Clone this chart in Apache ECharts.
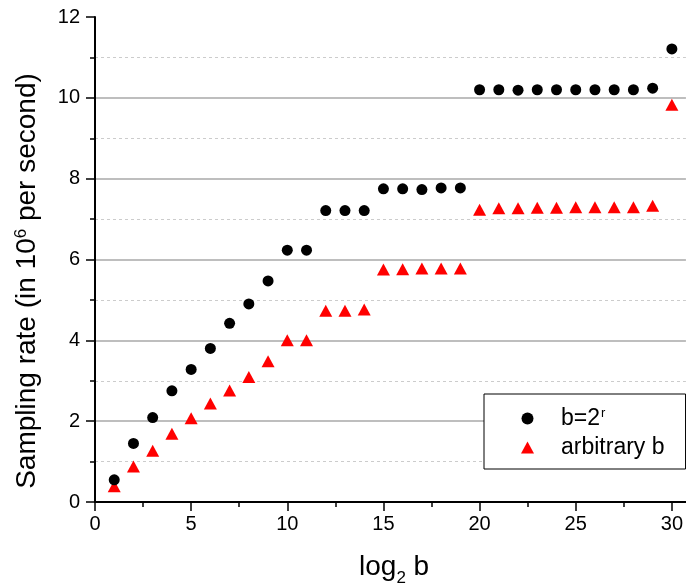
<!DOCTYPE html>
<html>
<head>
<meta charset="utf-8">
<script src="https://cdn.jsdelivr.net/npm/echarts@6/dist/echarts.min.js"></script>
<style>
html,body{margin:0;padding:0;background:#fff;}
#chart{width:686px;height:585px;}
</style>
</head>
<body>
<div id="chart"></div>
<script>
// ---- data ----
var log2b = [1,2,3,4,5,6,7,8,9,10,11,12,13,14,15,16,17,18,19,20,21,22,23,24,25,26,27,28,29,30];
var ratePow2 = [0.55,1.45,2.09,2.75,3.28,3.80,4.42,4.90,5.47,6.23,6.23,7.21,7.21,7.21,7.75,7.75,7.73,7.77,7.77,10.20,10.20,10.19,10.20,10.20,10.20,10.20,10.20,10.20,10.24,11.21];
var rateArbitrary = [0.39,0.88,1.27,1.69,2.07,2.44,2.76,3.09,3.48,4.00,4.00,4.73,4.73,4.76,5.75,5.76,5.78,5.78,5.78,7.23,7.27,7.27,7.28,7.28,7.29,7.29,7.29,7.29,7.33,9.83];
var xMajorTicks = [0,5,10,15,20,25,30];
var xMinorTicks = [2.5,7.5,12.5,17.5,22.5,27.5];
var seriesNames = ['b=2^r','arbitrary b'];

var FONT = 'Liberation Sans, Arial, sans-serif';
function pairs(xs, ys){ return xs.map(function(x,i){ return [x, ys[i]]; }); }

var chart = echarts.init(document.getElementById('chart'), null, {renderer:'canvas'});
chart.setOption({
  animation:false,
  backgroundColor:'#fff',
  grid:{left:95, right:0, top:17, bottom:83, containLabel:false},
  xAxis:[{
    type:'value', min:0, max:30.73, position:'bottom',
    axisLine:{show:true, onZero:false, lineStyle:{color:'#000', width:2}},
    axisTick:{show:true, inside:false, length:9, customValues:xMajorTicks, lineStyle:{color:'#000', width:1.5}},
    axisLabel:{show:true, customValues:xMajorTicks, margin:12, color:'#000', fontSize:20, fontFamily:FONT},
    splitLine:{show:false}
  },{
    type:'value', min:0, max:30.73, position:'bottom',
    axisLine:{show:false},
    axisTick:{show:true, inside:false, length:5, customValues:xMinorTicks, lineStyle:{color:'#000', width:1.5}},
    axisLabel:{show:false},
    splitLine:{show:false}
  }],
  yAxis:{
    type:'value', min:0, max:12, interval:2,
    axisLine:{show:true, onZero:false, lineStyle:{color:'#000', width:2}},
    axisTick:{show:true, inside:false, length:9, lineStyle:{color:'#000', width:1.5}},
    minorTick:{show:true, splitNumber:2, length:5, lineStyle:{color:'#000', width:1.5}},
    axisLabel:{margin:15, color:'#000', fontSize:20, fontFamily:FONT},
    splitLine:{show:true, showMinLine:false, showMaxLine:false, lineStyle:{color:'#a8a8a8', width:1.5}},
    minorSplitLine:{show:true, lineStyle:{color:'#cccccc', width:1, type:[3,3]}}
  },
  legend:{
    orient:'vertical', left:484, top:394,
    padding:[13,21,10,37],
    itemWidth:13, itemHeight:12, itemGap:6,
    borderColor:'#000', borderWidth:1,
    backgroundColor:'#fff',
    data:seriesNames,
    formatter:function(n){ return n === seriesNames[0] ? '{t|b=2}{s|r}' : '{t|' + n + '}'; },
    textStyle:{color:'#000', fontSize:23, fontFamily:FONT, padding:[0,0,0,22],
      rich:{
        t:{fontSize:23, fontFamily:FONT, color:'#000'},
        s:{fontSize:13, fontFamily:FONT, color:'#000', verticalAlign:'top', padding:[0,0,9,1]}
      }
    }
  },
  graphic:[
    {type:'text', x:27, y:281, rotation:Math.PI/2, z:10,
     style:{text:'{t|Sampling rate (in 10}{s|6}{t| per second)}', align:'center', verticalAlign:'middle',
       rich:{t:{fontSize:28, fontFamily:FONT, fill:'#000'}, s:{fontSize:17, fontFamily:FONT, fill:'#000', verticalAlign:'top', padding:[0,0,12,0]}}}},
    {type:'text', x:359, y:567, z:10,
     style:{text:'log', align:'left', verticalAlign:'middle', fontSize:28, fontFamily:FONT, fill:'#000'}},
    {type:'text', x:396.5, y:578, z:10,
     style:{text:'2', align:'left', verticalAlign:'middle', fontSize:17, fontFamily:FONT, fill:'#000'}},
    {type:'text', x:413.5, y:567, z:10,
     style:{text:'b', align:'left', verticalAlign:'middle', fontSize:28, fontFamily:FONT, fill:'#000'}}
  ],
  series:[
    {name:seriesNames[0], type:'scatter', symbol:'circle', symbolSize:11,
     itemStyle:{color:'#000', opacity:1}, data:pairs(log2b, ratePow2), z:3},
    {name:seriesNames[1], type:'scatter', symbol:'triangle', symbolSize:[13,12],
     itemStyle:{color:'#ff0000', opacity:1}, data:pairs(log2b, rateArbitrary), z:2}
  ]
});
</script>
</body>
</html>
